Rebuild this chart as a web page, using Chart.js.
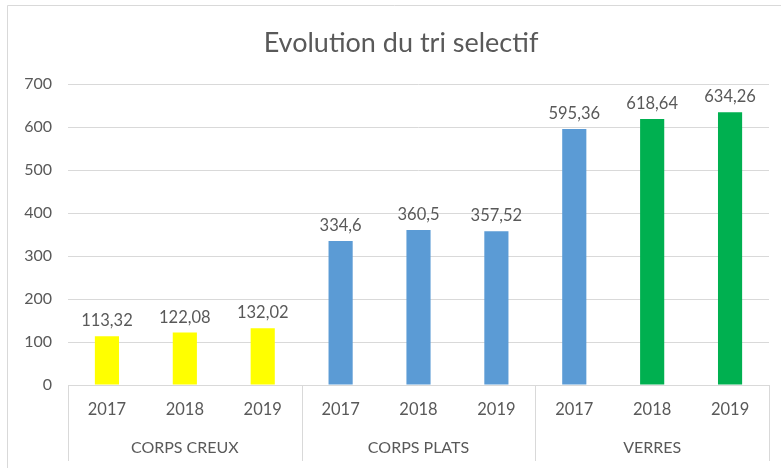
<!DOCTYPE html>
<html>
<head>
<meta charset="utf-8">
<script src="https://cdn.jsdelivr.net/npm/chart.js@4/dist/chart.umd.min.js"></script>
<style>
  html, body { margin: 0; padding: 0; background: #ffffff; }
  #wrap { width: 781px; height: 468px; }
</style>
</head>
<body>
<div id="wrap"><canvas id="c" width="781" height="468"></canvas></div>
<script>
// ---- Data ----
const title = "Evolution du tri selectif";
const years = ["2017", "2018", "2019", "2017", "2018", "2019", "2017", "2018", "2019"];
const groups = ["CORPS CREUX", "CORPS PLATS", "VERRES"];
const groupSizes = [3, 3, 3];
const values = [113.32, 122.08, 132.02, 334.6, 360.5, 357.52, 595.36, 618.64, 634.26];
const barColors = ["#FFFF00", "#FFFF00", "#FFFF00", "#5B9BD5", "#5B9BD5", "#5B9BD5", "#5B9BD5", "#00B050", "#00B050"];
const yTicks = [0, 100, 200, 300, 400, 500, 600, 700];

const TEXT = "#595959";
const GRID = "#d9d9d9";
const FONT = "Lato, 'Open Sans', sans-serif";

const frameAndLabels = {
  id: "frameAndLabels",
  beforeDraw(chart) {
    const ctx = chart.ctx;
    ctx.save();
    ctx.fillStyle = "#ffffff";
    ctx.fillRect(0, 0, chart.width, chart.height);
    ctx.strokeStyle = GRID;
    ctx.lineWidth = 1;
    ctx.beginPath();
    ctx.moveTo(7.5, chart.height);
    ctx.lineTo(7.5, 5.5);
    ctx.lineTo(chart.width, 5.5);
    ctx.stroke();
    // title
    ctx.fillStyle = TEXT;
    ctx.font = "27px " + FONT;
    ctx.textAlign = "center";
    ctx.textBaseline = "alphabetic";
    ctx.fillText(title, 401, 52);
    ctx.restore();
  },
  afterDraw(chart) {
    const ctx = chart.ctx;
    const xs = chart.scales.x;
    const area = chart.chartArea;
    const half = (xs.getPixelForValue(1) - xs.getPixelForValue(0)) / 2;
    ctx.save();
    // x axis line
    ctx.strokeStyle = GRID;
    ctx.lineWidth = 1;
    ctx.beginPath();
    ctx.moveTo(area.left, Math.round(area.bottom) + 0.5);
    ctx.lineTo(area.right, Math.round(area.bottom) + 0.5);
    ctx.stroke();
    // group separators and labels
    let idx = 0;
    const bounds = [];
    groups.forEach((g, gi) => {
      const start = idx, end = idx + groupSizes[gi] - 1;
      const l = xs.getPixelForValue(start) - half;
      const r = xs.getPixelForValue(end) + half;
      bounds.push(l, r);
      ctx.fillStyle = TEXT;
      ctx.font = "16px " + FONT;
      ctx.textAlign = "center";
      ctx.textBaseline = "middle";
      ctx.fillText(g, (l + r) / 2, 448);
      idx += groupSizes[gi];
    });
    const uniq = [...new Set(bounds.map(b => Math.round(b)))];
    ctx.beginPath();
    uniq.forEach(b => {
      ctx.moveTo(b + 0.5, area.bottom);
      ctx.lineTo(b + 0.5, 461);
    });
    ctx.stroke();
    // data labels
    const meta = chart.getDatasetMeta(0);
    ctx.fillStyle = TEXT;
    ctx.font = "16.5px " + FONT;
    ctx.textAlign = "center";
    ctx.textBaseline = "bottom";
    meta.data.forEach((bar, i) => {
      const txt = String(values[i]).replace(".", ",");
      ctx.fillText(txt, bar.x, bar.y - 7);
    });
    ctx.restore();
  }
};

new Chart(document.getElementById("c"), {
  type: "bar",
  data: {
    labels: years,
    datasets: [{
      data: values,
      backgroundColor: barColors,
      borderWidth: 0,
      barPercentage: 0.31,
      categoryPercentage: 1.0
    }]
  },
  options: {
    responsive: false,
    devicePixelRatio: 1,
    animation: false,
    layout: { padding: { left: 0, right: 12, top: 84, bottom: 0 } },
    plugins: {
      legend: { display: false },
      tooltip: { enabled: false },
      title: { display: false }
    },
    scales: {
      x: {
        grid: { display: false, drawTicks: false },
        border: { display: false },
        ticks: { color: TEXT, font: { family: FONT, size: 16.5 }, padding: 15, maxRotation: 0, autoSkip: false },
        afterFit(scale) { scale.height = 83; }
      },
      y: {
        min: 0,
        max: 700,
        afterBuildTicks(scale) { scale.ticks = yTicks.map(v => ({ value: v })); },
        grid: { color: GRID, lineWidth: 1, drawTicks: false },
        border: { display: false },
        ticks: { color: TEXT, font: { family: FONT, size: 16 }, padding: 16 },
        afterFit(scale) { scale.width = 68; }
      }
    }
  },
  plugins: [frameAndLabels]
});
</script>
</body>
</html>
